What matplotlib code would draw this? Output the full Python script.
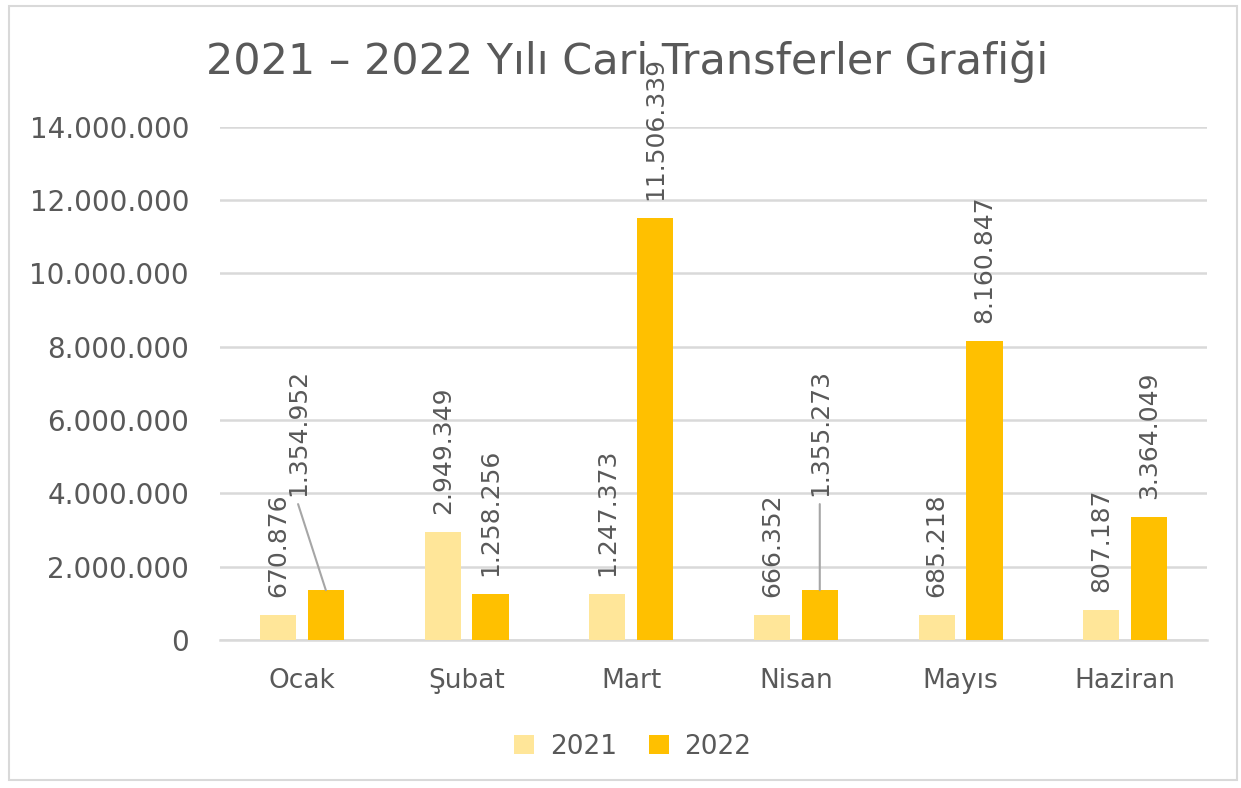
import matplotlib
matplotlib.use("Agg")
import matplotlib.pyplot as plt
from matplotlib.patches import Rectangle
from matplotlib.ticker import FuncFormatter
import numpy as np

months = ["Ocak", "Şubat", "Mart", "Nisan", "Mayıs", "Haziran"]
vals_2021 = [670876, 2949349, 1247373, 666352, 685218, 807187]
vals_2022 = [1354952, 1258256, 11506339, 1355273, 8160847, 3364049]
yticks = [0, 2000000, 4000000, 6000000, 8000000, 10000000, 12000000, 14000000]

c2021 = "#FFE699"
c2022 = "#FFC000"
grey = "#595959"


def tr_fmt(v):
    return f"{int(round(v)):,}".replace(",", ".")


fig = plt.figure(figsize=(12.41, 7.88), dpi=100)
ax = fig.add_axes([0.177, 0.188, 0.796, 0.651])

x = np.arange(len(months))
w = 0.22
off = 0.145
b1 = ax.bar(x - off, vals_2021, w, color=c2021, label="2021", zorder=3)
b2 = ax.bar(x + off, vals_2022, w, color=c2022, label="2022", zorder=3)

ax.set_ylim(0, 14000000)
ax.set_xlim(-0.5, len(months) - 0.5)
ax.set_yticks(yticks)
ax.yaxis.set_major_formatter(FuncFormatter(lambda v, p: tr_fmt(v)))
ax.set_xticks(x)
ax.set_xticklabels(months)
ax.tick_params(axis="both", length=0, labelsize=19, colors=grey)
ax.tick_params(axis="y", pad=22, labelsize=20)
ax.tick_params(axis="x", pad=20)
ax.grid(axis="y", color="#d9d9d9", lw=1.8, zorder=0)
for s in ["top", "right", "left"]:
    ax.spines[s].set_visible(False)
ax.spines["bottom"].set_color("#d9d9d9")
ax.spines["bottom"].set_linewidth(1.8)

# data labels; a few were dragged upward in the original, with leader lines
moved = {(1, 0): (-20, 68), (1, 3): (0, 68)}
for si, bars in enumerate([b1, b2]):
    for i, r in enumerate(bars):
        cx = r.get_x() + r.get_width() / 2
        h = r.get_height()
        dx, dy = moved.get((si, i), (0, 13))
        ax.annotate(tr_fmt(h), (cx, h), xytext=(dx, dy), textcoords="offset points",
                    rotation=90, ha="center", va="bottom", fontsize=18, color=grey,
                    annotation_clip=False, zorder=5)
        if (si, i) in moved:
            ax.annotate("", (cx, h), xytext=(dx, dy - 6), textcoords="offset points",
                        arrowprops=dict(arrowstyle="-", color="#a6a6a6", lw=1.5,
                                        shrinkA=0, shrinkB=0))

leg = fig.legend(loc="center", bbox_to_anchor=(0.51, 0.052), ncol=2, frameon=False,
                 fontsize=19, handlelength=0.75, handleheight=0.75, columnspacing=1.2,
                 handletextpad=0.6)
for t in leg.get_texts():
    t.set_color(grey)

fig.text(0.505, 0.922, "2021 – 2022 Yılı Cari Transferler Grafiği", ha="center", va="center",
         fontsize=31, color=grey)

fig.patches.append(Rectangle((0.007, 0.01), 0.99, 0.982, transform=fig.transFigure,
                             fill=False, edgecolor="#d9d9d9", lw=1.5))

fig.savefig("out.png", dpi=100)
